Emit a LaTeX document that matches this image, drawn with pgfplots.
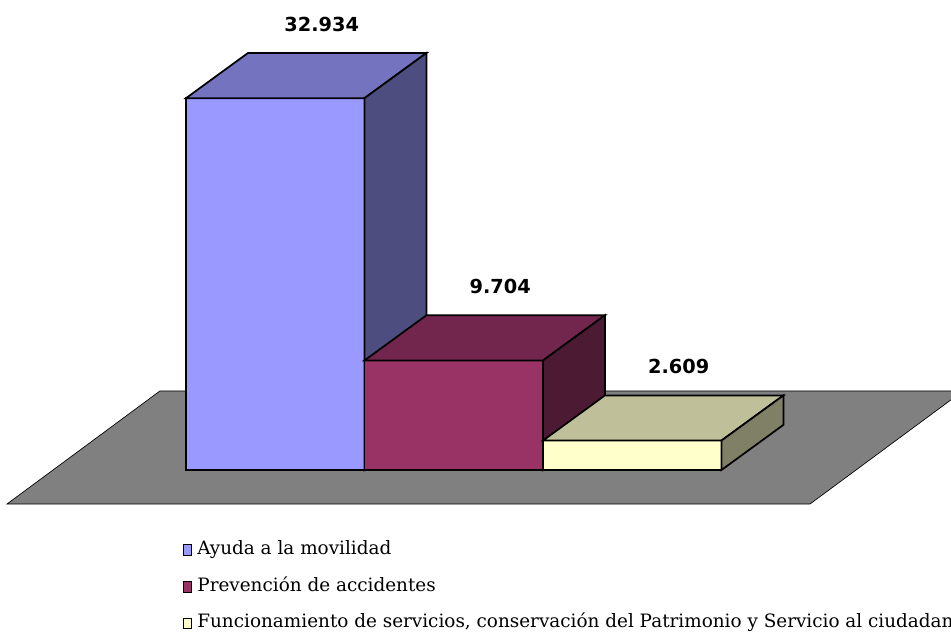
\documentclass[border=0pt]{standalone}
\usepackage{fontspec}
\setmainfont{DejaVu Serif}
\newfontfamily\lblfont{DejaVu Sans}
\usepackage{pgfplots}
\usepackage{pgfplotstable}
\pgfplotsset{compat=1.18}
\definecolor{f1}{HTML}{9999FF}\definecolor{t1}{HTML}{7373BF}\definecolor{s1}{HTML}{4D4D80}
\definecolor{f2}{HTML}{993366}\definecolor{t2}{HTML}{73264D}\definecolor{s2}{HTML}{4D1A33}
\definecolor{f3}{HTML}{FFFFCC}\definecolor{t3}{HTML}{BFBF99}\definecolor{s3}{HTML}{808066}
\definecolor{floor}{HTML}{808080}
\pgfplotstableread{
x v lab
0 32.934 32.934
1 9.704 9.704
2 2.609 2.609
}\bars
\begin{document}
\begin{tikzpicture}
\begin{axis}[
  width=713.25pt, height=476.25pt, scale only axis,
  xmin=-1.042, xmax=4.286, ymin=-14.61, ymax=41.63,
  axis lines=none, xtick=\empty, ytick=\empty,
  legend style={draw=none, fill=none, at={(rel axis cs:0.1875,0.1515)}, anchor=north west,
    font=\fontsize{13.8}{16}\selectfont, row sep=15pt,
    nodes={text height=9.5pt, text depth=3pt, inner sep=0pt}},
  legend cell align=left,
  legend image code/.code={\draw[#1, draw=black, line width=0.6pt] (0pt,-4pt) rectangle (6pt,4pt);},
  /tikz/every odd column/.append style={column sep=4.5pt},
]
% floor
\addplot[fill=floor, draw=black, line width=0.5pt, forget plot]
  coordinates {(-1.003,-3.01) (3.496,-3.01) (4.353,7.0) (-0.146,7.0)} -- cycle;
% bar 1
\addplot[fill=f1, draw=black, line width=1.3pt]
  coordinates {(0,0) (1,0) (1,32.934) (0,32.934)} -- cycle;
\addlegendentry{Ayuda a la movilidad}
\addplot[fill=t1, draw=black, line width=1.3pt, forget plot]
  coordinates {(0,32.934) (1,32.934) (1.347,36.934) (0.347,36.934)} -- cycle;
\addplot[fill=s1, draw=black, line width=1.3pt, forget plot]
  coordinates {(1,0) (1.347,4) (1.347,36.934) (1,32.934)} -- cycle;
% bar 2
\addplot[fill=f2, draw=black, line width=1.3pt]
  coordinates {(1,0) (2,0) (2,9.704) (1,9.704)} -- cycle;
\addlegendentry{Prevención de accidentes}
\addplot[fill=t2, draw=black, line width=1.3pt, forget plot]
  coordinates {(1,9.704) (2,9.704) (2.347,13.704) (1.347,13.704)} -- cycle;
\addplot[fill=s2, draw=black, line width=1.3pt, forget plot]
  coordinates {(2,0) (2.347,4) (2.347,13.704) (2,9.704)} -- cycle;
% bar 3
\addplot[fill=f3, draw=black, line width=1.3pt]
  coordinates {(2,0) (3,0) (3,2.609) (2,2.609)} -- cycle;
\addlegendentry{Funcionamiento de servicios, conservación del Patrimonio y Servicio al ciudadano}
\addplot[fill=t3, draw=black, line width=1.3pt, forget plot]
  coordinates {(2,2.609) (3,2.609) (3.347,6.609) (2.347,6.609)} -- cycle;
\addplot[fill=s3, draw=black, line width=1.3pt, forget plot]
  coordinates {(3,0) (3.347,4) (3.347,6.609) (3,2.609)} -- cycle;
% value labels
\addplot[draw=none, mark=none, forget plot, nodes near coords, point meta=explicit symbolic,
  every node near coord/.style={anchor=center, font=\lblfont\bfseries\fontsize{14.5}{16}\selectfont}]
  table[x expr=\thisrow{x}+0.76, y expr=\thisrow{v}+6.55, meta=lab] {\bars};
\end{axis}
\pgfresetboundingbox
\path[use as bounding box] (current axis.south west) rectangle (current axis.north east);
\end{tikzpicture}
\end{document}
